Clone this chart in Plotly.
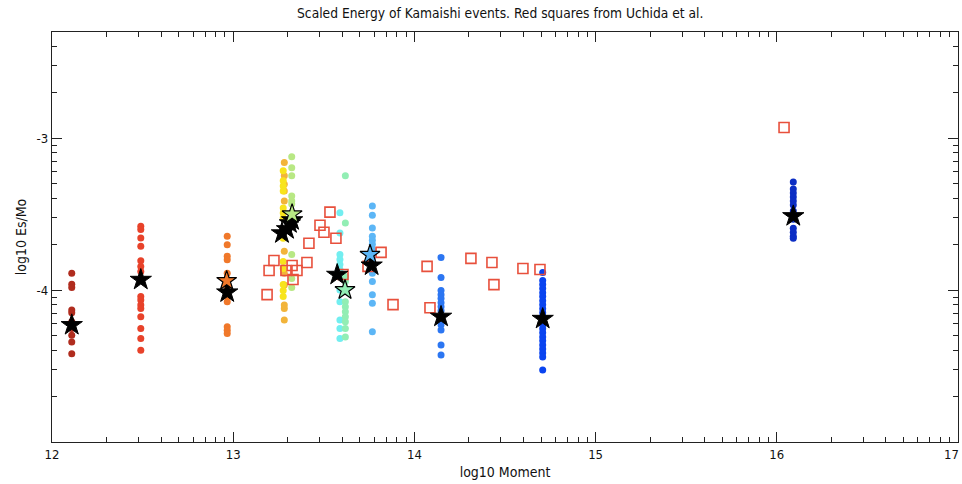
import numpy as np
import plotly.graph_objects as go

# ---- Kamaishi events: log10 moment and per-station log10(Es/Mo) ----
ev1_x = 12.109
ev1_y = [-3.889, -3.962, -3.983, -4.131, -4.149, -4.209, -4.253, -4.297, -4.341, -4.419]
ev2_x = 12.490
ev2_y = [-3.579, -3.601, -3.657, -3.712, -3.807, -3.844, -3.877, -4.043, -4.065, -4.098,
         -4.121, -4.176, -4.253, -4.319, -4.396]
ev3_x = 12.967
ev3_y = [-3.646, -3.701, -3.778, -3.800, -3.889, -3.944, -3.988, -4.010, -4.043, -4.076,
         -4.242, -4.264, -4.286]
ev4_x = 13.282
ev4_y = [-3.160, -3.248, -3.303, -3.348, -3.414, -3.613, -3.745, -3.889, -3.966, -4.098,
         -4.121, -4.197]
ev5_x = 13.276
ev5_y = [-3.215, -3.281, -3.315, -3.348, -3.460, -3.493, -3.526, -3.659, -3.811, -3.858,
         -3.964, -4.003, -4.043]
ev6_x = 13.323
ev6_y = [-3.123, -3.195, -3.248, -3.381, -3.414, -3.434, -3.493, -3.765, -3.924, -3.983]
ev7_x = 13.589
ev7_y = [-3.491, -3.624, -3.765, -3.798, -3.831, -3.864, -3.897, -3.999, -4.076, -4.197,
         -4.253, -4.319]
ev8_x = 13.619
ev8_y = [-3.248, -3.558, -3.911, -3.944, -4.076, -4.109, -4.142, -4.175, -4.209, -4.253,
         -4.308]
ev9_x = 13.768
ev9_y = [-3.447, -3.507, -3.591, -3.646, -3.672, -3.699, -3.732, -3.789, -3.889, -3.944,
         -4.030, -4.087, -4.275]
ev10_x = 14.147
ev10_y = [-3.785, -3.917, -4.003, -4.030, -4.056, -4.083, -4.109, -4.136, -4.195, -4.228,
          -4.262, -4.361, -4.427]
ev11_x = 14.708
ev11_y = [-3.884, -3.937, -3.964, -3.990, -4.017, -4.043, -4.070, -4.096, -4.123, -4.149,
          -4.175, -4.202, -4.228, -4.255, -4.281, -4.308, -4.334, -4.361, -4.387, -4.414,
          -4.440, -4.526]
ev12_x = 16.091
ev12_y = [-3.288, -3.334, -3.361, -3.387, -3.414, -3.440, -3.480, -3.507, -3.533, -3.593,
          -3.619, -3.646, -3.659]

events = [
    (ev1_x, ev1_y, "#b02c1e"),
    (ev2_x, ev2_y, "#e8422a"),
    (ev3_x, ev3_y, "#f0782a"),
    (ev4_x, ev4_y, "#f2b43a"),
    (ev5_x, ev5_y, "#f8e41c"),
    (ev6_x, ev6_y, "#b8e884"),
    (ev7_x, ev7_y, "#72eef0"),
    (ev8_x, ev8_y, "#92eeb4"),
    (ev9_x, ev9_y, "#5cb6f6"),
    (ev10_x, ev10_y, "#2c76f2"),
    (ev11_x, ev11_y, "#0a44f0"),
    (ev12_x, ev12_y, "#0c2ec4"),
]

# ---- event averages (black stars) and single-method estimates (filled stars) ----
mean_x = [12.109, 12.490, 12.967, 13.269, 13.297, 13.313, 13.325, 13.574, 13.764,
          14.147, 14.708, 16.091]
mean_y = [-4.230, -3.932, -4.015, -3.626, -3.599, -3.560, -3.540, -3.899, -3.838,
          -4.175, -4.189, -3.513]
alt_x = [12.964, 13.325, 13.617, 13.755]
alt_y = [-3.939, -3.500, -3.999, -3.767]
alt_c = ["#f0782a", "#b8e884", "#92eeb4", "#5cb6f6"]

# ---- Uchida et al. values (red squares) ----
uchida_x = [16.04, 13.534, 13.479, 13.501, 13.567, 13.418, 13.816, 13.225, 13.407, 13.325,
            13.744, 14.070, 14.312, 14.428, 14.599, 14.693, 13.198, 13.291, 13.352, 13.606,
            13.330, 14.439, 13.187, 13.882, 14.086]
uchida_y = [-2.93, -3.487, -3.573, -3.619, -3.659, -3.692, -3.752, -3.805, -3.818, -3.838,
            -3.844, -3.844, -3.791, -3.818, -3.858, -3.864, -3.871, -3.871, -3.871, -3.897,
            -3.930, -3.964, -4.030, -4.096, -4.116]

x_major = [12, 13, 14, 15, 16, 17]
x_labels = ["12", "13", "14", "15", "16", "17"]
y_major = [-4, -3]
y_labels = ["-4", "-3"]
y_top = np.log10(5e-3)

FONT = "DejaVu Sans Condensed, Liberation Sans Narrow, Arial Narrow, sans-serif"
INK = "#111111"

fig = go.Figure()

for ex, ey, col in events:
    fig.add_trace(go.Scatter(
        x=[ex] * len(ey), y=ey, mode="markers",
        marker=dict(size=7, color=col, line=dict(width=0)),
        showlegend=False, hoverinfo="skip"))

fig.add_trace(go.Scatter(
    x=uchida_x, y=uchida_y, mode="markers",
    marker=dict(symbol="square-open", size=10, color="#e8503c", line=dict(width=1.6)),
    showlegend=False, hoverinfo="skip"))

fig.add_trace(go.Scatter(
    x=mean_x, y=mean_y, mode="markers",
    marker=dict(symbol="star", size=16, color="black", line=dict(width=1, color="black")),
    showlegend=False, hoverinfo="skip"))

fig.add_trace(go.Scatter(
    x=alt_x, y=alt_y, mode="markers",
    marker=dict(symbol="star", size=15, color=alt_c, line=dict(width=1.2, color="black")),
    showlegend=False, hoverinfo="skip"))

# decade-style minor ticks on both axes
x_minor = [d + np.log10(k) for d in range(12, 17) for k in range(2, 10)]
y_minor = [d + np.log10(k) for d in (-5, -4, -3) for k in range(2, 10)
           if d + np.log10(k) < y_top - 1e-6]

axis_common = dict(
    showgrid=False, zeroline=False, showline=True, linecolor="#222222", linewidth=1.3,
    mirror="ticks", ticks="inside", ticklen=10, tickwidth=1.2, tickcolor="#222222",
    tickfont=dict(family=FONT, size=13, color=INK), ticklabeloverflow="allow",
    automargin=False,
)

# the last x label sits at the page edge; it is drawn as an annotation nudged inward
fig.update_xaxes(
    range=[12, 17], tickmode="array", tickvals=x_major[:-1], ticktext=x_labels[:-1],
    minor=dict(tickvals=x_minor, ticks="inside", ticklen=5, tickwidth=1.2,
               tickcolor="#222222", showgrid=False),
    title=dict(text="log10 Moment", font=dict(family=FONT, size=14, color=INK),
               standoff=6),
    **axis_common)
fig.add_annotation(
    x=x_major[-1], y=0, xref="x", yref="paper", text=x_labels[-1], showarrow=False,
    xanchor="right", yanchor="top", xshift=3, yshift=-3,
    font=dict(family=FONT, size=13, color=INK))

fig.update_yaxes(
    range=[-5, y_top], tickmode="array", tickvals=y_major, ticktext=y_labels,
    minor=dict(tickvals=y_minor, ticks="inside", ticklen=5, tickwidth=1.2,
               tickcolor="#222222", showgrid=False),
    title=dict(text="log10 Es/Mo", font=dict(family=FONT, size=14, color=INK),
               standoff=6),
    **axis_common)

fig.update_layout(
    width=962, height=484,
    margin=dict(l=52, r=4, t=32, b=42),
    paper_bgcolor="white", plot_bgcolor="white",
    title=dict(text="Scaled Energy of Kamaishi events. Red squares from Uchida et al.",
               x=0.52, xanchor="center", y=0.972, yanchor="middle",
               font=dict(family=FONT, size=13.7, color=INK)),
)

fig.write_html("out.html")
